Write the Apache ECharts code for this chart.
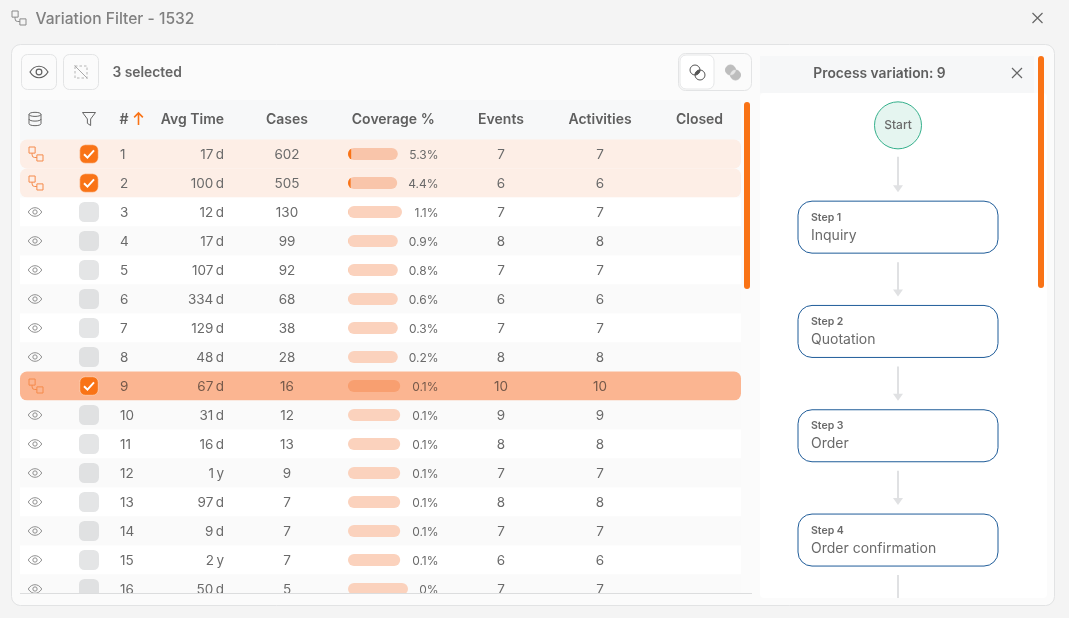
<!DOCTYPE html>
<html>
<head>
<meta charset="utf-8">
<title>Variation Filter</title>
<script src="https://cdn.jsdelivr.net/npm/echarts@6/dist/echarts.min.js"></script>
<style>
  html, body { margin: 0; padding: 0; background: #f4f4f4; }
  #main { width: 1069px; height: 618px; }
</style>
</head>
<body>
<div id="main"></div>
<script>
// table data
var rowIds = ['1', '2', '3', '4', '5', '6', '7', '8', '9', '10', '11', '12', '13', '14', '15', '16'];
var avgTime = ['17\u2009d', '100\u2009d', '12\u2009d', '17\u2009d', '107\u2009d', '334\u2009d', '129\u2009d', '48\u2009d', '67\u2009d', '31\u2009d', '16\u2009d', '1\u2009y', '97\u2009d', '9\u2009d', '2\u2009y', '50\u2009d'];
var cases = [602, 505, 130, 99, 92, 68, 38, 28, 16, 12, 13, 9, 7, 7, 7, 5];
var coverage = [5.3, 4.4, 1.1, 0.9, 0.8, 0.6, 0.3, 0.2, 0.1, 0.1, 0.1, 0.1, 0.1, 0.1, 0.1, 0];
var coverageTrack = [83, 82, 90, 83, 83, 83, 83, 83, 87, 87, 87, 87, 87, 87, 87, 100];
var events = [7, 6, 7, 8, 7, 6, 7, 8, 10, 9, 8, 7, 8, 7, 6, 7];
var activities = [7, 6, 7, 8, 7, 6, 7, 8, 10, 9, 8, 7, 8, 7, 6, 7];
var selectedRows = [0, 1, 8];
var activeRow = 8;
var flowSteps = ['Start', 'Inquiry', 'Quotation', 'Order', 'Order confirmation'];

var FONT = 'Inter, "Noto Sans", sans-serif';
var TEXT = '#6a6a6a';
var ORANGE = '#f97316';
var EYE = 'M1 12C4 7 8 5 12 5s8 2 11 7c-3 5-7 7-11 7s-8-2-11-7zM12 8.5a3.5 3.5 0 1 0 0 7a3.5 3.5 0 0 0 0-7z';
var FLOW = 'M0 0h7v7H0zM9 9h7v7h-7zM3.5 7v2a3 3 0 0 0 3 3h2.5';
var CHECK = 'M0 6l4.5 4.5L13 1';
var CLOSE = 'M0 0L10 10M10 0L0 10';
var RINGS = 'M5 0a5 5 0 1 0 0 10a5 5 0 1 0 0-10zM10 5a5 5 0 1 0 0 10a5 5 0 1 0 0-10z';
var LENS = 'M10 5A5 5 0 0 1 5 10A5 5 0 0 1 10 5z';

var grids = [], xAxes = [], yAxes = [], series = [];

// every table column is its own small grid sharing the same row axis
function addColumn(left, width, header) {
    var i = grids.length;
    grids.push({ left: left, width: width, top: 139.5, height: 464 });
    xAxes.push({
        gridIndex: i, type: 'value', min: 0, max: 1, position: 'top',
        name: header || '', nameLocation: 'middle', nameGap: 19.5,
        nameTextStyle: { color: '#5f5f5f', fontFamily: FONT, fontSize: 14, fontWeight: 600, verticalAlign: 'middle' },
        axisLine: { show: false }, axisTick: { show: false }, axisLabel: { show: false }, splitLine: { show: false }
    });
    yAxes.push({ gridIndex: i, type: 'category', inverse: true, data: rowIds, show: false });
    return i;
}

function rowData(x) {
    return rowIds.map(function (id, i) { return [x, i]; });
}

function isSelected(i) {
    return selectedRows.indexOf(i) >= 0;
}

function addTextColumn(left, width, header, values, x, align, size) {
    var i = addColumn(left, width, header);
    if (!values) return;
    series.push({
        type: 'custom', xAxisIndex: i, yAxisIndex: i, z: 4, clip: false, silent: true,
        data: rowData(x),
        renderItem: function (params, api) {
            var p = api.coord([api.value(0), api.value(1)]);
            return {
                type: 'text', x: p[0], y: p[1] + 1,
                style: {
                    text: String(values[params.dataIndex]), align: align, verticalAlign: 'middle',
                    fill: params.dataIndex === activeRow ? '#75594a' : TEXT,
                    fontFamily: FONT, fontSize: size || 13.5
                }
            };
        }
    });
}

// row bands
var bandGrid = addColumn(20, 721);
series.push({
    type: 'custom', xAxisIndex: bandGrid, yAxisIndex: bandGrid, z: 1, silent: true, clip: false,
    data: rowData(0),
    renderItem: function (params, api) {
        var i = params.dataIndex;
        var p = api.coord([0, i]);
        var h = api.size([0, 1])[1];
        var fill = i === activeRow ? '#fbb591' : isSelected(i) ? '#fdeee6' : i % 2 ? '#fafafa' : '#ffffff';
        var r = isSelected(i) ? 7 : 0;
        return {
            type: 'rect',
            shape: { x: p[0], y: p[1] - h / 2, width: 721, height: h, r: r },
            style: { fill: fill }
        };
    }
});

// row icon column
var iconGrid = addColumn(25, 20);
series.push({
    type: 'custom', xAxisIndex: iconGrid, yAxisIndex: iconGrid, z: 4, silent: true, clip: false,
    data: rowData(0.5),
    renderItem: function (params, api) {
        var p = api.coord([0.5, params.dataIndex]);
        var sel = isSelected(params.dataIndex);
        var w = sel ? 14 : 13.5;
        return {
            type: 'path',
            shape: { pathData: sel ? FLOW : EYE, x: p[0] - w / 2 + (sel ? 1 : 0), y: p[1] - w / 2, width: w, height: w, layout: 'center' },
            style: { fill: 'none', stroke: sel ? '#f58a4b' : '#909090', lineWidth: 1 }
        };
    }
});

// checkbox column
var checkGrid = addColumn(79, 20);
series.push({
    type: 'custom', xAxisIndex: checkGrid, yAxisIndex: checkGrid, z: 4, silent: true, clip: false,
    data: rowData(0.5),
    renderItem: function (params, api) {
        var p = api.coord([0.5, params.dataIndex]);
        var sel = isSelected(params.dataIndex);
        var s = sel ? 18.5 : 20;
        var box = {
            type: 'rect',
            shape: { x: p[0] - s / 2, y: p[1] - s / 2, width: s, height: s, r: 5.5 },
            style: sel ? { fill: ORANGE, stroke: '#fde3d2', lineWidth: 0.6 } : { fill: params.dataIndex % 2 ? '#e0e1e2' : '#e4e5e6' }
        };
        if (!sel) return box;
        return {
            type: 'group',
            children: [box, {
                type: 'path',
                shape: { pathData: CHECK, x: p[0] - 5, y: p[1] - 4, width: 10, height: 8, layout: 'center' },
                style: { fill: 'none', stroke: '#fff', lineWidth: 2 }
            }]
        };
    }
});

addTextColumn(120, 8, '#', rowIds, 0, 'left');
addTextColumn(161, 63, 'Avg Time', avgTime, 1, 'right');
addTextColumn(265, 44, 'Cases', cases, 0.5, 'center');

// coverage bars
var barGrid = grids.length;
grids.push({ left: 348, width: 60, top: 139.5, height: 464 });
xAxes.push({ gridIndex: barGrid, type: 'value', min: 0, max: 100, show: false });
yAxes.push({ gridIndex: barGrid, type: 'category', inverse: true, data: rowIds, show: false });
series.push({
    type: 'bar', xAxisIndex: barGrid, yAxisIndex: barGrid, z: 3, silent: true, barWidth: 12,
    data: coverageTrack.map(function (v, i) {
        return { value: v, itemStyle: { color: i === activeRow ? '#f89f70' : isSelected(i) ? '#f9c5aa' : '#fbd2bd' } };
    }),
    itemStyle: { borderRadius: 6 }
});
// the covered part is cut by the rounded track, so it shows as a crescent
series.push({
    type: 'custom', xAxisIndex: barGrid, yAxisIndex: barGrid, z: 4, silent: true, clip: false,
    data: coverage.map(function (v, i) { return [v, i]; }),
    renderItem: function (params, api) {
        var i = params.dataIndex;
        var start = api.coord([0, i]);
        var end = api.coord([api.value(0), i]);
        var trackEnd = api.coord([coverageTrack[i], i]);
        return {
            type: 'rect',
            shape: { x: start[0], y: start[1] - 6, width: end[0] - start[0], height: 12 },
            style: { fill: isSelected(i) ? ORANGE : '#f9c4a6' },
            clipPath: {
                type: 'rect',
                shape: { x: start[0], y: start[1] - 6, width: trackEnd[0] - start[0], height: 12, r: 6 }
            }
        };
    }
});

addTextColumn(348, 90.5, 'Coverage %', coverage.map(function (v) { return v + '%'; }), 1, 'right', 12);
addTextColumn(477, 48, 'Events', events, 0.5, 'center');
addTextColumn(568, 64, 'Activities', activities, 0.5, 'center');
addTextColumn(676, 47, 'Closed');

// process flow on the right
var flowGrid = grids.length;
grids.push({ left: 798, width: 200, top: 70.7, height: 521.5 });
xAxes.push({ gridIndex: flowGrid, type: 'value', min: 0, max: 1, show: false });
yAxes.push({ gridIndex: flowGrid, type: 'category', inverse: true, data: flowSteps, show: false });
series.push({
    type: 'custom', xAxisIndex: flowGrid, yAxisIndex: flowGrid, z: 4, silent: true, clip: false,
    data: flowSteps.map(function (s, i) { return [0, i]; }),
    renderItem: function (params, api) {
        var i = params.dataIndex;
        var p = api.coord([0, i]);
        var w = api.size([1, 0])[0];
        var cx = p[0] + w / 2;
        var gap = api.size([0, 1])[1];
        var last = i === flowSteps.length - 1;
        var children = [];
        if (i === 0) {
            var cy = p[1] + 2.5;
            children.push({
                type: 'circle', shape: { cx: cx, cy: cy, r: 23.5 },
                style: { fill: '#e5f5f0', stroke: '#35b08c', lineWidth: 1 }
            });
            children.push({
                type: 'text', x: cx, y: cy,
                style: { text: flowSteps[i], align: 'center', verticalAlign: 'middle', fill: TEXT, fontFamily: FONT, fontSize: 12, fontWeight: 500 }
            });
        } else {
            children.push({
                type: 'rect', shape: { x: p[0], y: p[1] - 26, width: w, height: 52, r: 14 },
                style: { fill: '#fff', stroke: '#1f5c99', lineWidth: 1 }
            });
            children.push({
                type: 'text', x: p[0] + 13, y: p[1] - 9.5,
                style: { text: 'Step ' + i, align: 'left', verticalAlign: 'middle', fill: TEXT, fontFamily: FONT, fontSize: 10.5, fontWeight: 600 }
            });
            children.push({
                type: 'text', x: p[0] + 13, y: p[1] + 8.5,
                style: { text: flowSteps[i], align: 'left', verticalAlign: 'middle', fill: TEXT, fontFamily: FONT, fontSize: 14 }
            });
        }
        // connector down to the next step, the last one runs off the panel
        var y0 = p[1] + (i === 0 ? 34 : 35);
        var y1 = p[1] + gap - 35;
        children.push({
            type: 'line', shape: { x1: cx, y1: y0, x2: cx, y2: last ? p[1] + 58 : y1 - 6 },
            style: { stroke: '#e0e1e3', lineWidth: 2 }
        });
        if (!last) {
            children.push({
                type: 'polygon', shape: { points: [[cx - 5, y1 - 7], [cx + 5, y1 - 7], [cx, y1]] },
                style: { fill: '#e0e1e3' }
            });
        }
        return { type: 'group', children: children };
    }
});

function box(x, y, w, h, r, fill, stroke, z) {
    return {
        type: 'rect', z: z || 0, silent: true,
        shape: { x: x, y: y, width: w, height: h, r: r || 0 },
        style: { fill: fill, stroke: stroke || null, lineWidth: stroke ? 1 : 0 }
    };
}

function icon(d, x, y, w, h, stroke, width, fill, dash) {
    return {
        type: 'path', silent: true,
        shape: { pathData: d, x: x - w / 2, y: y - h / 2, width: w, height: h, layout: 'center' },
        style: { fill: fill || 'none', stroke: stroke, lineWidth: width || 1, lineDash: dash || null }
    };
}

function label(text, x, y, size, weight, color, align) {
    return {
        type: 'text', z: 1, silent: true, x: x, y: y,
        style: { text: text, fill: color || TEXT, fontFamily: FONT, fontSize: size, fontWeight: weight || 400, align: align || 'left', verticalAlign: 'middle' }
    };
}

var PANEL = '#fbfbfb';
var graphicItems = [
    box(11.5, 44.5, 1043, 561, 9, PANEL, '#e2e3e4'),
    box(20, 100, 721, 40, 0, '#f7f8f9'),
    box(760, 56, 274, 37, 0, '#f6f7f8'),
    box(760, 93, 287, 505, 4, '#ffffff'),

    label('Variation Filter - 1532', 35.5, 19, 15.6, 500, '#808080'),

    // toolbar
    box(21.5, 54.5, 35, 35, 6, '#fbfbfb', '#e3e4e5'),
    box(63.5, 54.5, 35, 35, 6, '#fbfbfb', '#e3e4e5'),
    label('3 selected', 112.5, 72.5, 13.8, 600, '#666'),
    box(678.5, 53.5, 73, 37, 7, '#fbfbfb', '#e3e4e5'),
    box(680, 55, 34, 34, 6, '#ffffff', '#e6e7e8'),

    label('Process variation: 9', 879.5, 73.5, 13.8, 600, '#5f5f5f', 'center'),

    // covers that cut the overflowing content
    box(19, 594, 738, 10.5, 0, PANEL, null, 20),
    box(760, 598, 287, 6.5, 0, PANEL, null, 20),
    box(20, 593, 732, 1, 0, '#dcddde', null, 21),

    // scrollbars
    box(744, 102, 6, 187, 3, ORANGE, null, 21),
    box(1038, 56, 6, 232, 3, ORANGE, null, 21)
];

// graphic has no path element, so window icons go through a custom series
var chromeIcons = [
    icon(FLOW, 19, 18, 14, 14, '#8a8a8a'),
    icon(CLOSE, 1037.5, 18, 10, 10, '#666', 1.2),
    icon(EYE, 39, 72, 18, 18, '#5f5f5f', 1.2),
    icon('M0 0h12v12H0z', 81, 72, 12, 12, '#b5b5b5', 1, null, [2.5, 2]),
    icon('M0 0L12 12', 81, 72, 13, 13, '#a8a8a8', 1),
    icon(RINGS, 697.5, 72.5, 15, 15, '#555', 1),
    icon(LENS, 697.5, 72.5, 5, 5, '#555', 0.5, '#555'),
    icon(RINGS, 733, 72.5, 15, 15, '#bdbdbd', 1, '#bdbdbd'),
    icon(LENS, 733, 72.5, 5, 5, '#e6e6e6', 0.5, '#e6e6e6'),
    icon('M0 2.5C0 0 11 0 11 2.5V11C11 13.5 0 13.5 0 11zM0 2.5C0 5 11 5 11 2.5M0 6.8C0 9.3 11 9.3 11 6.8', 35, 119, 12, 14, '#666'),
    icon('M0 0H12L7.5 6V12L4.5 10V6z', 89, 119, 13, 13, '#666'),
    icon('M5 12V1M1 5L5 1L9 5', 138.5, 119, 9, 12, ORANGE, 1.6),
    icon(CLOSE, 1017, 73, 10, 10, '#666', 1.2)
];
series.push({
    type: 'custom', coordinateSystem: 'none', z: 5, silent: true,
    data: [[0]],
    renderItem: function () {
        return { type: 'group', children: chromeIcons };
    }
});

var myChart = echarts.init(document.getElementById('main'));
myChart.setOption({
    animation: false,
    backgroundColor: '#f4f4f4',
    textStyle: { fontFamily: FONT },
    tooltip: { show: false },
    grid: grids,
    xAxis: xAxes,
    yAxis: yAxes,
    series: series,
    graphic: { elements: graphicItems }
});
</script>
</body>
</html>
